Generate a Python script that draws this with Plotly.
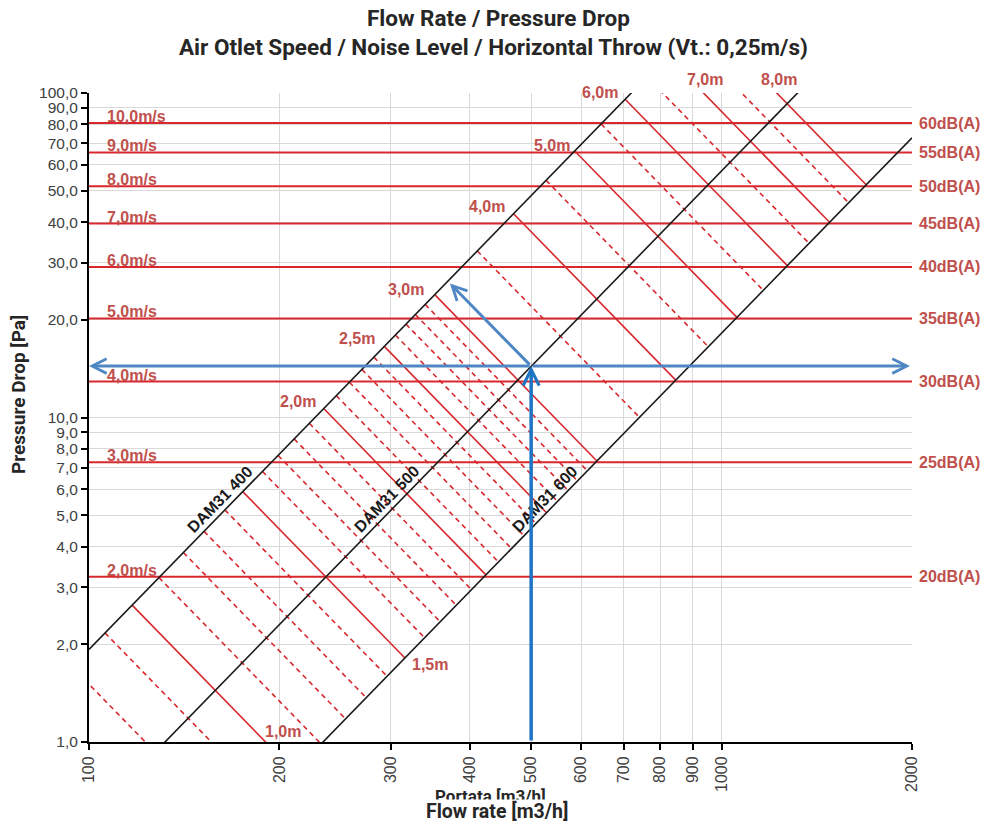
import math
import plotly.graph_objects as go

# ---------------- data ----------------
models = ["DAM31 400", "DAM31 500", "DAM31 600"]
model_dp_at_100 = [1.93, 0.575, 0.182]          # Pa at 100 m3/h  (dp ~ Q^2)
model_label_dp = 5.0                              # where the model names sit

speed_labels = ["2,0m/s", "3,0m/s", "4,0m/s", "5,0m/s", "6,0m/s",
                "7,0m/s", "8,0m/s", "9,0m/s", "10,0m/s"]
speed_dp = [3.23, 7.28, 12.9, 20.2, 29.1, 39.6, 51.6, 65.6, 80.8]
noise_labels = ["20dB(A)", "25dB(A)", "30dB(A)", "35dB(A)", "40dB(A)",
                "45dB(A)", "50dB(A)", "55dB(A)", "60dB(A)"]

throw_labels = ["1,0m", "1,5m", "2,0m", "2,5m", "3,0m",
                "4,0m", "5,0m", "6,0m", "7,0m", "8,0m"]
# flow rate where each throw line meets the DAM31 400 curve
throw_q400 = [117, 175, 235, 293, 352, 469, 586, 704, 821, 938]
minor_throw_q400 = [94, 106, 129, 141, 152, 164, 188, 199, 211, 223,
                    246, 258, 270, 282, 305, 317, 328, 340,
                    411, 528, 645, 762, 880]

x_ticks = [100, 200, 300, 400, 500, 600, 700, 800, 900, 1000, 2000]
y_ticks = [1, 2, 3, 4, 5, 6, 7, 8, 9, 10, 20, 30, 40, 50, 60, 70, 80, 90, 100]

example_q = 500
example_dp = 14.4
example_throw_q = 372
example_throw_dp = 25.9
x_min, x_max = 100, 2000
y_min, y_max = 1, 100
h_arrow_right_q = 1985

# ---------------- styling ----------------
RED = "#D8282E"
LABEL_RED = "#C0504D"
BLACK = "#1A1A1A"
BLUE_V = "#1F74C4"
BLUE_H = "#4F86C4"
GRID = "#D9D9D9"
NARROW = "Liberation Sans Narrow, Arial Narrow, Roboto, sans-serif"
ARIAL = "Liberation Sans, Arial, sans-serif"

L, R, T, B = 89, 69, 93, 84
W, H = 981, 826
PW, PH = W - L - R, H - T - B


def px_x(px):
    return (px - L) / PW


def px_y(py):
    return (H - B - py) / PH


lg = math.log10
k = [d / 100 ** 2 for d in model_dp_at_100]
ratio = (k[0] / k[2]) ** 0.25


def throw_seg(qa):
    c = k[0] * qa ** 4
    qb = qa * ratio
    return c, [qa, qb], [c / qa ** 2, c / qb ** 2]


fig = go.Figure()

# speed / noise lines
xs, ys = [], []
for d in speed_dp:
    xs += [x_min, x_max, None]
    ys += [d, d, None]
fig.add_trace(go.Scatter(x=xs, y=ys, mode="lines",
                         line=dict(color=RED, width=2), hoverinfo="skip"))

# minor throw lines (dashed)
xs, ys = [], []
for qa in minor_throw_q400:
    _, sx, sy = throw_seg(qa)
    xs += sx + [None]
    ys += sy + [None]
fig.add_trace(go.Scatter(x=xs, y=ys, mode="lines",
                         line=dict(color=RED, width=1.6, dash="5px,4px"),
                         hoverinfo="skip"))

# main throw lines
xs, ys = [], []
for qa in throw_q400:
    _, sx, sy = throw_seg(qa)
    xs += sx + [None]
    ys += sy + [None]
fig.add_trace(go.Scatter(x=xs, y=ys, mode="lines",
                         line=dict(color=RED, width=1.6), hoverinfo="skip"))

# model curves
qs = [x_min * (x_max / x_min) ** (i / 60) for i in range(61)]
for kk in k:
    fig.add_trace(go.Scatter(x=qs, y=[kk * q ** 2 for q in qs], mode="lines",
                             line=dict(color=BLACK, width=1.6),
                             hoverinfo="skip"))

ann = []

# speed labels (left) and noise labels (right)
for lab, nl, d in zip(speed_labels, noise_labels, speed_dp):
    ann.append(dict(xref="paper", x=0, xanchor="left", xshift=16,
                    yref="y", y=lg(d), yanchor="bottom", yshift=-4,
                    text=lab, showarrow=False,
                    font=dict(family=ARIAL, size=16, color=LABEL_RED, weight="bold")))
    ann.append(dict(xref="paper", x=1, xanchor="left", xshift=5,
                    yref="y", y=lg(d), yanchor="middle",
                    text=nl, showarrow=False,
                    font=dict(family=ARIAL, size=16, color=LABEL_RED, weight="bold")))

# throw labels
offs = {
    0: ("bottom_hit", "left", "bottom", -3, 0),
    1: ("end", "left", "middle", 5, -7),
    2: ("start", "right", "middle", -6, 7),
    3: ("start", "right", "middle", -7, 8),
    4: ("start", "right", "middle", -9, 5),
    5: ("start", "right", "middle", -7, 7),
    6: ("start", "right", "middle", -3, 5),
    7: ("start", "right", "middle", -5, 7),
    8: ("top_hit", "center", "bottom", 1, 3),
    9: ("top_hit", "center", "bottom", 2, 3),
}
for i, (lab, qa) in enumerate(zip(throw_labels, throw_q400)):
    c, sx, sy = throw_seg(qa)
    where, xa, ya, dx, dy = offs[i]
    if where == "start":
        q, d = sx[0], sy[0]
    elif where == "end":
        q, d = sx[1], sy[1]
    elif where == "bottom_hit":
        q, d = math.sqrt(c / y_min), y_min
    else:
        q, d = math.sqrt(c / y_max), y_max
    ann.append(dict(xref="x", x=lg(q), yref="y", y=lg(d), xanchor=xa,
                    yanchor=ya, xshift=dx, yshift=dy, text=lab,
                    showarrow=False,
                    font=dict(family=ARIAL, size=16, color=LABEL_RED, weight="bold")))

# model labels along curves
ang = -math.degrees(math.atan((PH / 2) * 2 / (PW / lg(x_max / x_min))))
for name, kk in zip(models, k):
    q = math.sqrt(model_label_dp / kk)
    ann.append(dict(xref="x", x=lg(q), yref="y", y=lg(model_label_dp),
                    xanchor="center", yanchor="middle", yshift=16, xshift=0,
                    text=name, showarrow=False, textangle=ang,
                    font=dict(family=ARIAL, size=16, color=BLACK, weight="bold")))

# blue example arrows
ann.append(dict(xref="x", yref="y", axref="x", ayref="y",
                x=lg(example_q), y=lg(example_dp),
                ax=lg(example_q), ay=lg(y_min),
                showarrow=True, arrowhead=5, arrowsize=0.9, arrowwidth=3.5,
                arrowcolor=BLUE_V, text=""))
ann.append(dict(xref="x", yref="y", axref="x", ayref="y",
                x=lg(x_min), y=lg(example_dp),
                ax=lg(example_q), ay=lg(example_dp),
                showarrow=True, arrowhead=5, arrowsize=0.95, arrowwidth=3,
                arrowcolor=BLUE_H, text=""))
ann.append(dict(xref="x", yref="y", axref="x", ayref="y",
                x=lg(h_arrow_right_q), y=lg(example_dp),
                ax=lg(example_q), ay=lg(example_dp),
                showarrow=True, arrowhead=5, arrowsize=0.95, arrowwidth=3,
                arrowcolor=BLUE_H, text=""))
ann.append(dict(xref="x", yref="y", axref="x", ayref="y",
                x=lg(example_throw_q), y=lg(example_throw_dp),
                ax=lg(example_q), ay=lg(example_dp),
                showarrow=True, arrowhead=5, arrowsize=0.95, arrowwidth=3,
                arrowcolor=BLUE_H, text=""))

# titles
TCOL = "#262626"
ann.append(dict(xref="paper", yref="paper", x=px_x(498), y=px_y(18),
                xanchor="center", yanchor="middle", showarrow=False,
                text="Flow Rate / Pressure Drop",
                font=dict(family=NARROW, size=22.5, color=TCOL, weight="bold")))
ann.append(dict(xref="paper", yref="paper", x=px_x(493), y=px_y(47),
                xanchor="center", yanchor="middle", showarrow=False,
                text="Air Otlet Speed / Noise Level / Horizontal Throw (Vt.: 0,25m/s)",
                font=dict(family=NARROW, size=22.5, color=TCOL, weight="bold")))
ann.append(dict(xref="paper", yref="paper", x=px_x(18), y=px_y(395),
                xanchor="center", yanchor="middle", showarrow=False,
                textangle=-90, text="Pressure Drop [Pa]",
                font=dict(family=NARROW, size=19, color=TCOL, weight="bold")))
ann.append(dict(xref="paper", yref="paper", x=px_x(490), y=px_y(796),
                xanchor="center", yanchor="middle", showarrow=False,
                text="Portata [m3/h]",
                font=dict(family=NARROW, size=17, color=TCOL, weight="bold")))
ann.append(dict(xref="paper", yref="paper", x=px_x(497), y=px_y(811),
                xanchor="center", yanchor="middle", showarrow=False,
                text="Flow rate [m3/h]", bgcolor="white", borderpad=0,
                font=dict(family=NARROW, size=19.5, color=TCOL, weight="bold")))

fig.update_layout(
    width=W, height=H, margin=dict(l=L, r=R, t=T, b=B),
    paper_bgcolor="white", plot_bgcolor="white", showlegend=False,
    annotations=ann,
    xaxis=dict(type="log", range=[lg(x_min), lg(x_max)],
               tickmode="array", tickvals=x_ticks,
               ticktext=[str(v) for v in x_ticks], tickangle=-90,
               showgrid=True, gridcolor=GRID, gridwidth=1, zeroline=False,
               showline=True, linecolor="black", linewidth=2,
               ticks="outside", ticklen=6, tickwidth=1.5, tickcolor="black",
               tickfont=dict(family=ARIAL, size=16, color="#404040")),
    yaxis=dict(type="log", range=[lg(y_min), lg(y_max)],
               tickmode="array", tickvals=y_ticks,
               ticktext=[f"{v:.1f}".replace(".", ",") for v in y_ticks],
               showgrid=True, gridcolor=GRID, gridwidth=1, zeroline=False,
               showline=True, linecolor="black", linewidth=2,
               ticks="outside", ticklen=6, tickwidth=1.5, tickcolor="black",
               tickfont=dict(family=ARIAL, size=15.5, color="#404040")),
)

fig.write_html("out.html", config={"displayModeBar": False},
               post_script="document.body.style.margin='0';")
